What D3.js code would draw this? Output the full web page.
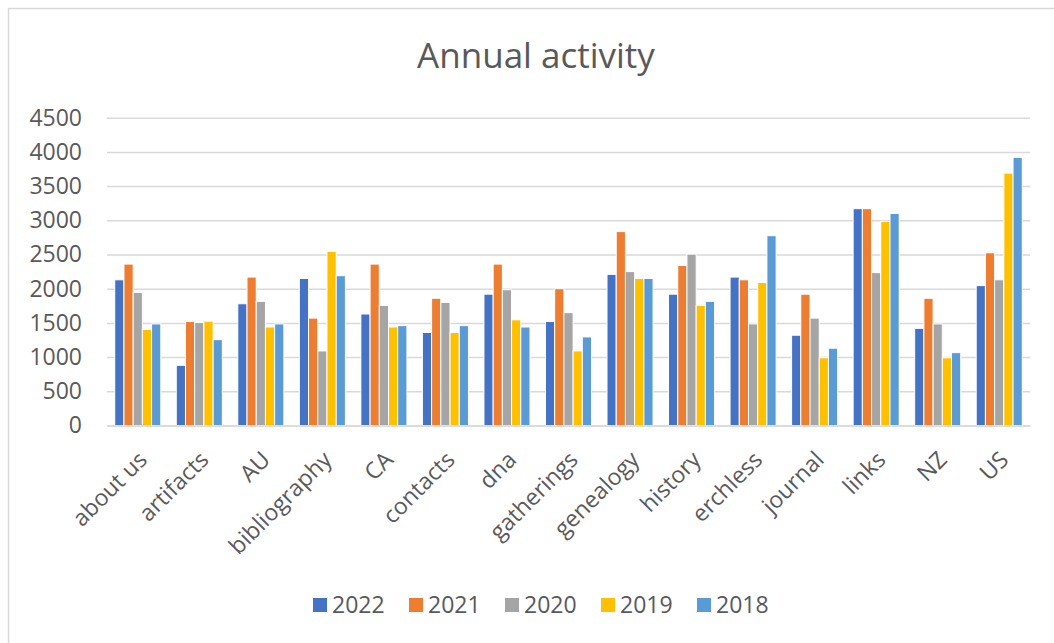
<!DOCTYPE html>
<html>
<head>
<meta charset="utf-8">
<script src="https://cdn.jsdelivr.net/npm/d3@7"></script>
<style>
  body { margin: 0; background: #fff; }
  text { font-family: "Open Sans", sans-serif; fill: #595959; }
</style>
</head>
<body>
<div id="chart"></div>
<script>
// categories and values
var categories = ["about us", "artifacts", "AU", "bibliography", "CA", "contacts", "dna",
  "gatherings", "genealogy", "history", "erchless", "journal", "links", "NZ", "US"];
var years = ["2022", "2021", "2020", "2019", "2018"];

var v2022 = [2130, 880, 1780, 2150, 1630, 1360, 1920, 1520, 2210, 1920, 2170, 1320, 3170, 1420, 2045];
var v2021 = [2360, 1520, 2170, 1570, 2360, 1860, 2360, 2000, 2835, 2340, 2130, 1920, 3170, 1860, 2525];
var v2020 = [1945, 1505, 1815, 1090, 1755, 1800, 1985, 1650, 2250, 2505, 1485, 1570, 2235, 1485, 2130];
var v2019 = [1405, 1525, 1440, 2545, 1440, 1360, 1545, 1090, 2150, 1755, 2090, 990, 2985, 990, 3690];
var v2018 = [1485, 1255, 1485, 2190, 1460, 1460, 1440, 1295, 2150, 1815, 2775, 1130, 3100, 1065, 3920];

var yTicks = [0, 500, 1000, 1500, 2000, 2500, 3000, 3500, 4000, 4500];
var colors = ["#4472C4", "#ED7D31", "#A5A5A5", "#FFC000", "#5B9BD5"];

var series = [v2022, v2021, v2020, v2019, v2018];

var svgWidth = 1054;
var svgHeight = 643;

var svg = d3.select("#chart")
  .append("svg")
  .attr("width", svgWidth)
  .attr("height", svgHeight);

// chart frame (runs past the right and bottom edges like the screenshot)
svg.append("rect")
  .attr("x", 8.5)
  .attr("y", 8.5)
  .attr("width", 1100)
  .attr("height", 700)
  .attr("fill", "#fff")
  .attr("stroke", "#d9d9d9")
  .attr("stroke-width", 1.5);

// scales
var x0 = d3.scaleBand()
  .domain(categories)
  .range([107, 1030]);

var x1 = d3.scaleBand()
  .domain(years)
  .range([0, x0.bandwidth()])
  .paddingOuter(0.84);

var y = d3.scaleLinear()
  .domain([0, 4500])
  .range([425.5, 117.7]);

var color = d3.scaleOrdinal().domain(years).range(colors);

// gridlines + y labels
var leftAxis = d3.axisLeft(y)
  .tickValues(yTicks)
  .tickFormat(d3.format("d"))
  .tickSize(-(1030 - 107))
  .tickPadding(25);

var yAxis = svg.append("g")
  .attr("transform", "translate(107,0)")
  .call(leftAxis);

yAxis.select(".domain").remove();
yAxis.selectAll("line")
  .attr("stroke", "#d9d9d9")
  .attr("stroke-width", 1.5);
yAxis.selectAll("text")
  .style("font-family", "'Open Sans', sans-serif")
  .style("font-size", "23px")
  .attr("fill", "#595959");

// bars
var groups = svg.append("g")
  .selectAll("g")
  .data(categories)
  .enter()
  .append("g")
  .attr("transform", d => `translate(${x0(d)},0)`);

groups.selectAll("rect")
  .data((c, i) => years.map((yr, j) => ({ year: yr, value: series[j][i] })))
  .enter()
  .append("rect")
  .attr("x", d => x1(d.year))
  .attr("y", d => y(d.value))
  .attr("width", x1.bandwidth())
  .attr("height", d => y(0) - y(d.value))
  .attr("fill", d => color(d.year))
  .attr("stroke", "#fff")
  .attr("stroke-width", 1);

// category labels, rotated
var bottomAxis = d3.axisBottom(x0).tickSize(0).tickPadding(0);
var xAxis = svg.append("g")
  .attr("transform", `translate(0,${y(0)})`)
  .call(bottomAxis);

xAxis.select(".domain")
  .attr("stroke", "#d9d9d9")
  .attr("stroke-width", 1.5);

xAxis.selectAll("text")
  .style("font-family", "'Open Sans', sans-serif")
  .style("font-size", "23px")
  .attr("fill", "#595959")
  .attr("text-anchor", "end")
  .attr("dy", "0.72em")
  .attr("y", 0)
  .attr("transform", "translate(-1,24) rotate(-45)");

// title
svg.append("text")
  .attr("x", 536)
  .attr("y", 68)
  .attr("text-anchor", "middle")
  .style("font-size", "35px")
  .text("Annual activity");

// legend
var legend = svg.append("g")
  .selectAll("g")
  .data(years)
  .enter()
  .append("g")
  .attr("transform", (d, i) => `translate(${313 + i * 96},605)`);

legend.append("rect")
  .attr("x", 0)
  .attr("y", -7)
  .attr("width", 14)
  .attr("height", 14)
  .attr("fill", d => color(d));

legend.append("text")
  .attr("x", 19)
  .attr("y", 0)
  .attr("dy", "0.35em")
  .style("font-size", "23px")
  .text(d => d);
</script>
</body>
</html>
